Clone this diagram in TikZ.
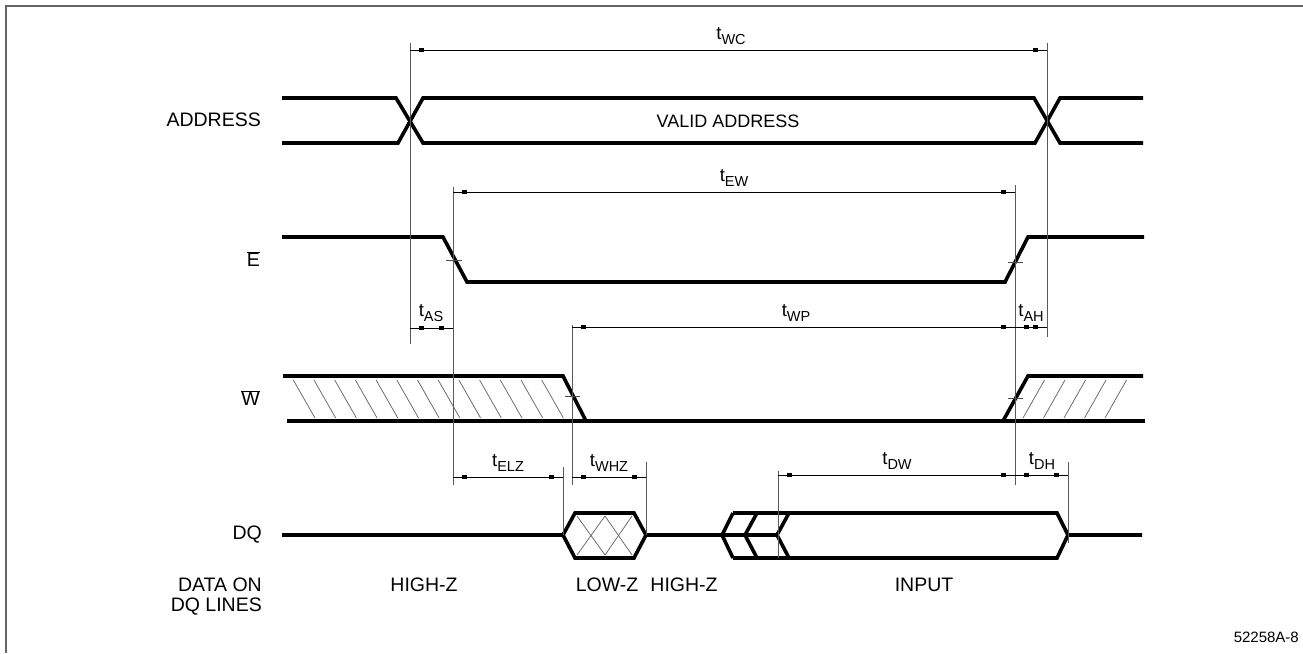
\documentclass[tikz,border=0pt]{standalone}
\usepackage{fontspec}
\setmainfont{Liberation Sans}
\newcommand\tsub[1]{t\raisebox{-0.5ex}{\fontsize{14.5}{14.5}\selectfont #1}}
\newcommand\dimln[3]{%
  \draw[dimline] (#1,#3) -- (#2,#3);
  \fill ({#1+9},{#3-1.7}) rectangle ({#1+14},{#3+1.7});
  \fill ({#2-14},{#3-1.7}) rectangle ({#2-9},{#3+1.7});
}
\begin{document}
\begin{tikzpicture}[x=1pt,y=-1pt,
  sig/.style={line width=3.6pt},
  extline/.style={line width=0.9pt, black!65},
  dimline/.style={line width=0.8pt, black},
  hatchline/.style={line width=0.75pt, black!60},
  tickline/.style={line width=0.8pt, black!70},
  lbl/.style={inner sep=0pt, font=\fontsize{19.5}{22}\selectfont},
  inlbl/.style={inner sep=0pt, font=\fontsize{18}{21}\selectfont},
  tlbl/.style={inner sep=0pt, font=\fontsize{18.5}{21}\selectfont}]
\useasboundingbox (0,0) rectangle (1303,653);
% frame
\draw[line width=1.5pt, black!60] (6,653) -- (6,6) -- (1303,6);

% ---------- ADDRESS ----------
\draw[sig] (282,98) -- (396,98) -- (423,143) -- (1035,143) -- (1060,98) -- (1143,98);
\draw[sig] (282,143) -- (398,143) -- (423,98) -- (1034,98) -- (1060,143) -- (1143,143);
\node[lbl, anchor=east] (laddr) at (261,120) {ADDRESS};
\node[inlbl] (lvalid) at (728,121) {VALID ADDRESS};

% ---------- E ----------
\draw[sig] (282,237) -- (443,237) -- (467,282) -- (1005,282) -- (1028,237) -- (1144,237);
\node[lbl, anchor=east] (le) at (260,259) {$\overline{\hbox{E}}$};

% ---------- W ----------
\foreach \t in {293.3,314,334.7,355.4,376.1,396.8,417.5,438.2,458.9,479.6,500.3,521,541.7}
  \draw[hatchline] (\t,380) -- ({\t+21.7},418);
\foreach \b in {1023,1043.5,1064,1084.5,1105}
  \draw[hatchline] (\b,418) -- ({\b+21.5},380);
\draw[sig] (283,376) -- (563,376) -- (586,421);
\draw[sig] (287,421) -- (1145,421);
\draw[sig] (1003,421) -- (1028,376) -- (1143,376);
\node[lbl, anchor=east] (lw) at (260,398) {$\overline{\hbox{W}}$};

% ---------- DQ ----------
\draw[hatchline] (577,516) -- (605,555);
\draw[hatchline] (605,516) -- (577,555);
\draw[hatchline] (605,516) -- (632,555);
\draw[hatchline] (632,516) -- (605,555);
\draw[sig] (282,535) -- (563,535) -- (575,513) -- (634,513) -- (646,535) -- (777,535);
\draw[sig] (563,535) -- (575,558) -- (634,558) -- (646,535);
\draw[sig] (733,513) -- (722,535) -- (733,558);
\draw[sig] (757,513) -- (745,535) -- (757,558);
\draw[sig] (789,513) -- (777,535) -- (789,558);
\draw[sig] (733,513) -- (1057,513) -- (1068,535) -- (1142,535);
\draw[sig] (733,558) -- (1057,558) -- (1068,535);
\node[lbl, anchor=east] (ldq) at (262,535) {DQ};
\node[lbl, anchor=east] (ldata1) at (262,585) {DATA ON};
\node[lbl, anchor=east] (ldata2) at (262,607) {DQ LINES};
\node[lbl] (lhz1) at (424,585) {HIGH-Z};
\node[lbl] (llz) at (607,585) {LOW-Z};
\node[lbl] (lhz2) at (684,585) {HIGH-Z};
\node[lbl] (linput) at (924,585) {INPUT};
\node[anchor=east, inner sep=0pt, font=\fontsize{15}{17}\selectfont] (lcode) at (1299,637) {52258A-8};

% ---------- extension lines ----------
\draw[extline] (410,43) -- (410,344);
\draw[extline] (1047,43) -- (1047,337);
\draw[extline] (453,187) -- (453,485);
\draw[extline] (1015,185) -- (1015,485);
\draw[extline] (572,325) -- (572,485);
\draw[extline] (563,467) -- (563,535);
\draw[extline] (646,462) -- (646,535);
\draw[extline] (778,471) -- (778,558);
\draw[extline] (1068,462) -- (1068,543);
% crossing ticks
\draw[tickline] (446,260) -- (462,260);
\draw[tickline] (1008,262) -- (1023,262);
\draw[tickline] (565,396) -- (580,396);
\draw[tickline] (1008,398) -- (1023,398);

% ---------- dimensions ----------
\dimln{410}{1047}{50}
\node[tlbl] (twc) at (731,36) {\tsub{WC}};
\dimln{453}{1015}{192}
\node[tlbl] (tew) at (734,178) {\tsub{EW}};
\dimln{410}{453}{328}
\node[tlbl] (tas) at (431,313) {\tsub{AS}};
\dimln{572}{1015}{327}
\node[tlbl] (twp) at (796,313) {\tsub{WP}};
\dimln{1015}{1047}{327}
\node[tlbl] (tah) at (1031,313) {\tsub{AH}};
\dimln{453}{563}{477}
\node[tlbl] (telz) at (508,463) {\tsub{ELZ}};
\dimln{572}{646}{477}
\node[tlbl] (twhz) at (609,463) {\tsub{WHZ}};
\dimln{778}{1015}{475}
\node[tlbl] (tdw) at (897,461) {\tsub{DW}};
\dimln{1015}{1068}{475}
\node[tlbl] (tdh) at (1042,461) {\tsub{DH}};
\end{tikzpicture}
\end{document}
